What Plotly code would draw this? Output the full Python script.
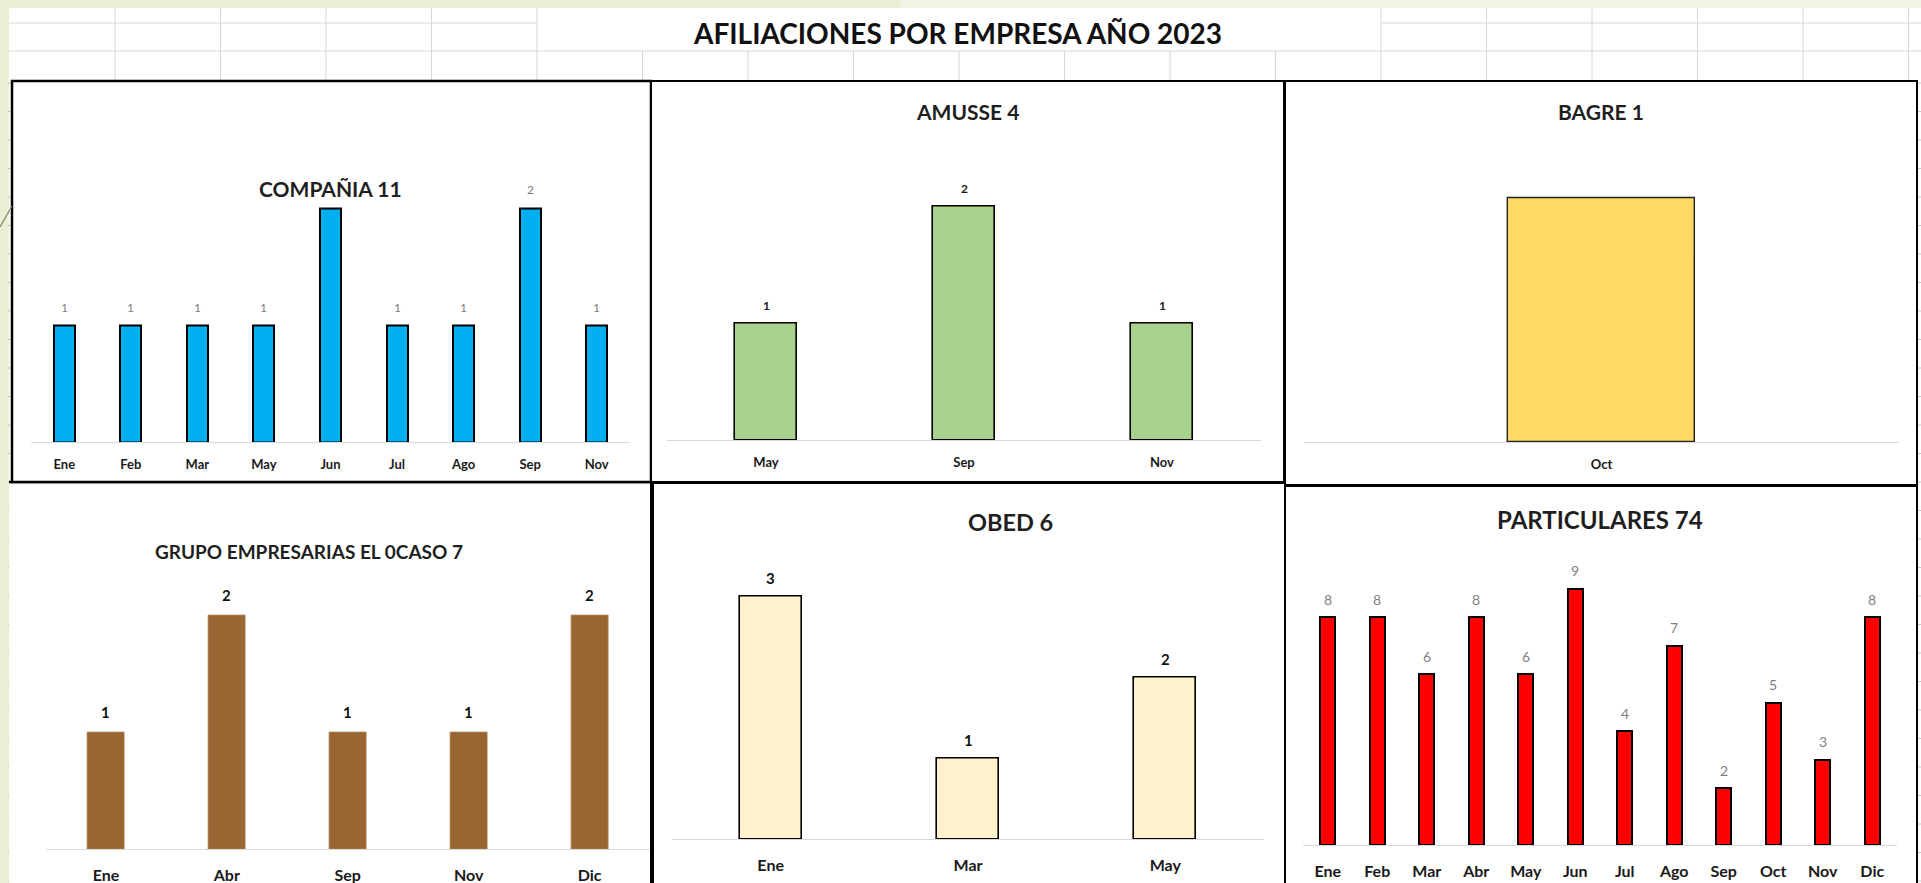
import plotly.graph_objects as go

W, H = 1921, 883

# ---------------- data ----------------
titulo_general = "AFILIACIONES POR EMPRESA AÑO 2023"

comp_meses = ["Ene", "Feb", "Mar", "May", "Jun", "Jul", "Ago", "Sep", "Nov"]
comp_vals = [1, 1, 1, 1, 2, 1, 1, 2, 1]

amusse_meses = ["May", "Sep", "Nov"]
amusse_vals = [1, 2, 1]

bagre_meses = ["Oct"]
bagre_vals = [1]

grupo_meses = ["Ene", "Abr", "Sep", "Nov", "Dic"]
grupo_vals = [1, 2, 1, 1, 2]

obed_meses = ["Ene", "Mar", "May"]
obed_vals = [3, 1, 2]

part_meses = ["Ene", "Feb", "Mar", "Abr", "May", "Jun", "Jul", "Ago", "Sep", "Oct", "Nov", "Dic"]
part_vals = [8, 8, 6, 8, 6, 9, 4, 7, 2, 5, 3, 8]

titulos = ["COMPAÑIA 11", "AMUSSE 4", "BAGRE 1",
           "GRUPO EMPRESARIAS EL 0CASO 7", "OBED 6", "PARTICULARES 74"]

# in the reference the "Jun" label of COMPAÑIA sits under the chart title
comp_etiquetas_ocultas = ["Jun"]

# ---------------- styles / layout (pixels) ----------------
FONT = "Lato, Carlito, Calibri, 'Open Sans', sans-serif"

panels = [
    dict(cats=comp_meses, vals=comp_vals, hide=comp_etiquetas_ocultas,
         xl=31, xr=630, axis=442, top=149.5, ymax=2.5,
         w=0.315, color="#00B0F0", lc="black", lw=2, tick=13,
         lab=True, labsize=12, labcolor="#7F7F7F", labweight="normal", labshift=18,
         tx=330, ty=189, tsize=21, tweight="bold"),
    dict(cats=amusse_meses, vals=amusse_vals, hide=[],
         xl=667, xr=1261, axis=440, top=147.5, ymax=2.5,
         w=0.31, color="#A9D18E", lc="black", lw=1.6, tick=13,
         lab=True, labsize=12, labcolor="#1A1A1A", labweight="bold", labshift=18,
         tx=967, ty=111, tsize=21, tweight="bold"),
    dict(cats=bagre_meses, vals=bagre_vals, hide=[],
         xl=1304, xr=1899, axis=442, top=149.2, ymax=1.2,
         w=0.314, color="#FFD966", lc="#222222", lw=1.4, tick=13,
         lab=False, labsize=12, labcolor="#1A1A1A", labweight="bold", labshift=18,
         tx=1601, ty=111, tsize=21, tweight="bold"),
    dict(cats=grupo_meses, vals=grupo_vals, hide=[],
         xl=45.5, xr=650, axis=849, top=556.5, ymax=2.5,
         w=0.306, color="#996633", lc="#B07F4F", lw=0.8, tick=16,
         lab=True, labsize=15, labcolor="#111111", labweight="bold", labshift=20,
         tx=309, ty=551, tsize=19, tweight="bold"),
    dict(cats=obed_meses, vals=obed_vals, hide=[],
         xl=672, xr=1264, axis=839, top=555.5, ymax=3.5,
         w=0.314, color="#FFF2CC", lc="black", lw=1.6, tick=16,
         lab=True, labsize=15, labcolor="#111111", labweight="bold", labshift=18,
         tx=1010, ty=522, tsize=23.5, tweight="bold"),
    dict(cats=part_meses, vals=part_vals, hide=[],
         xl=1303, xr=1897, axis=845, top=560, ymax=10,
         w=0.303, color="#FF0000", lc="black", lw=2, tick=16,
         lab=True, labsize=14, labcolor="#7F7F7F", labweight="normal", labshift=18,
         tx=1600, ty=519, tsize=24, tweight="bold"),
]


def px(x):
    return x / W


def py(y):
    return 1 - y / H


shapes = []


def rect(x0, y0, x1, y1, fill="rgba(0,0,0,0)", lc="rgba(0,0,0,0)", lw=0):
    shapes.append(dict(type="rect", xref="paper", yref="paper",
                       x0=px(x0), x1=px(x1), y0=py(y1), y1=py(y0),
                       fillcolor=fill, line=dict(color=lc, width=lw), layer="below"))


def seg(x0, y0, x1, y1, color, lw):
    shapes.append(dict(type="line", xref="paper", yref="paper",
                       x0=px(x0), x1=px(x1), y0=py(y0), y1=py(y1),
                       line=dict(color=color, width=lw), layer="below"))


# slightly lighter background strip towards the right on top
rect(900, -2, W + 2, 8, fill="#F1F4E4")
# spreadsheet background
rect(9, 8, W + 2, H + 2, fill="white")
GRID = "#D6D6D6"
cols = [9.5 + 105.5 * k for k in range(1, 19)]
for c in cols:
    if c <= 537.5 or c >= 1380.5:
        seg(c, 8, c, 51, GRID, 1)
    seg(c, 51, c, 81, GRID, 1)
seg(9, 23, 537, 23, GRID, 1)
seg(1381, 23, W, 23, GRID, 1)
seg(9, 51, W, 51, GRID, 1)
y = 83.0
while y < H:
    seg(8, y, 12, y, "#C8C8C8", 1)
    seg(1917, y, W, y, "#C8C8C8", 1)
    y += 28.5

# chart frames
rect(9, 482, 651, H + 5, fill="white")
seg(9, 482, 651, 482, "black", 2.5)
seg(651, 482, 651, H + 5, "black", 2)
rect(12, 81, 651, 482, fill="white", lc="black", lw=2.5)
rect(651, 81, 1284, 482, fill="white", lc="black", lw=2)
rect(1285, 81, 1917, 485, fill="white", lc="black", lw=2)
rect(653, 483, 1285, H + 5, fill="white", lc="black", lw=2)
rect(1285, 486, 1917, H + 5, fill="white", lc="black", lw=2)
# decorative background stroke at the left edge
seg(0, 227, 12, 206, "#7E855A", 1.2)

fig = go.Figure()
annotations = []
layout_axes = {}

for i, p in enumerate(panels, start=1):
    xa = "x" if i == 1 else f"x{i}"
    ya = "y" if i == 1 else f"y{i}"
    fig.add_trace(go.Bar(
        x=p["cats"], y=p["vals"], width=p["w"],
        marker=dict(color=p["color"], line=dict(color=p["lc"], width=p["lw"])),
        xaxis=xa, yaxis=ya, hoverinfo="skip", showlegend=False,
    ))
    layout_axes["xaxis" if i == 1 else f"xaxis{i}"] = dict(
        domain=[px(p["xl"]), px(p["xr"])], anchor=ya, type="category",
        categoryorder="array", categoryarray=p["cats"],
        range=[-0.5, len(p["cats"]) - 0.5],
        showline=True, linecolor="#D9D9D9", linewidth=1.3, showgrid=False,
        zeroline=False, ticks="", fixedrange=True,
        tickfont=dict(family=FONT, size=p["tick"], color="#1A1A1A", weight="bold"),
        ticklabelstandoff=10 if p["tick"] < 15 else 12,
    )
    layout_axes["yaxis" if i == 1 else f"yaxis{i}"] = dict(
        domain=[py(p["axis"]), py(p["top"])], anchor=xa, range=[0, p["ymax"]],
        visible=False, fixedrange=True,
    )
    if p["lab"]:
        for c, v in zip(p["cats"], p["vals"]):
            if c in p["hide"]:
                continue
            annotations.append(dict(
                x=c, y=v, xref=xa, yref=ya, text=str(v), showarrow=False,
                yanchor="middle", xanchor="center", yshift=p["labshift"],
                font=dict(family=FONT, size=p["labsize"], color=p["labcolor"],
                          weight=p["labweight"]),
            ))

for p, t in zip(panels, titulos):
    annotations.append(dict(
        x=px(p["tx"]), y=py(p["ty"]), xref="paper", yref="paper", text=t,
        showarrow=False, xanchor="center", yanchor="middle",
        font=dict(family=FONT, size=p["tsize"], color="#1F1F1F", weight=p["tweight"])))

annotations.append(dict(
    x=px(957), y=py(33), xref="paper", yref="paper", text=titulo_general,
    showarrow=False, xanchor="center", yanchor="middle",
    font=dict(family=FONT, size=28, color="#111111", weight="bold"),
))

fig.update_layout(
    width=W, height=H, autosize=False,
    margin=dict(l=0, r=0, t=0, b=0, pad=0),
    paper_bgcolor="#E9EED5", plot_bgcolor="rgba(0,0,0,0)",
    shapes=shapes, annotations=annotations, bargap=0,
    **layout_axes,
)

fig.write_html(
    "out.html",
    config={"displayModeBar": False},
    post_script="document.body.style.margin='0';document.body.style.overflow='hidden';",
)
